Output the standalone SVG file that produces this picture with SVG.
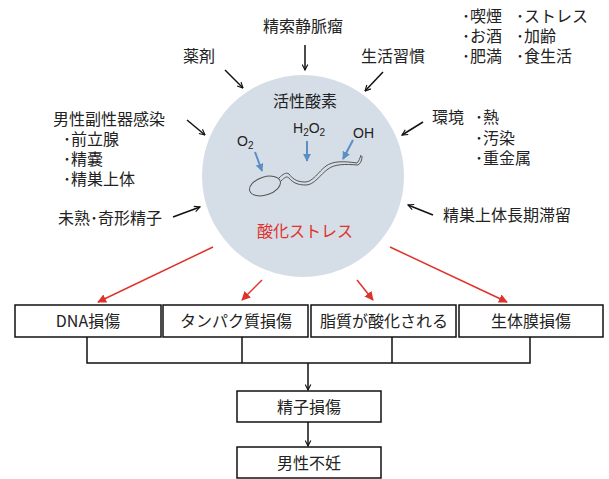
<svg xmlns="http://www.w3.org/2000/svg" width="609" height="479" viewBox="0 0 609 479">
  <defs>
    <style>
      text { font-family: "Noto Sans CJK JP", "Noto Sans", sans-serif; fill: #222; font-size: 16px; }
      .mid { text-anchor: middle; }
      .red { fill: #e0322c; }
      .chem { font-family: "Liberation Sans", Arial, sans-serif; font-size: 14px; }
      .sub { font-size: 10px; }
      .box rect { fill: #fff; stroke: #111; stroke-width: 1.5; }
      .blk { stroke: #111; stroke-width: 1.5; fill: none; }
      .rd { stroke: #e0322c; stroke-width: 1.5; fill: none; }
      .bl { stroke: #5b8fc4; stroke-width: 2; fill: none; }
      .line { stroke: #111; stroke-width: 1.5; fill: none; }
    </style>
    <marker id="hk" viewBox="0 0 10 10" refX="9" refY="5" markerWidth="7" markerHeight="7" orient="auto" markerUnits="userSpaceOnUse">
      <path d="M1,1 L9,5 L1,9" fill="none" stroke="#111" stroke-width="1.6"/>
    </marker>
    <marker id="hr" viewBox="0 0 10 10" refX="9" refY="5" markerWidth="9" markerHeight="9" orient="auto" markerUnits="userSpaceOnUse">
      <path d="M0,0 L10,5 L0,10 Z" fill="#e0322c"/>
    </marker>
    <marker id="hb" viewBox="0 0 10 10" refX="9" refY="5" markerWidth="8" markerHeight="8" orient="auto" markerUnits="userSpaceOnUse">
      <path d="M0,0 L10,5 L0,10 Z" fill="#5b8fc4"/>
    </marker>
  </defs>

  <!-- central reactive oxygen circle -->
  <g id="ros">
    <circle cx="303" cy="176" r="101" fill="#d5dde6"/>
    <text class="mid" x="305" y="107">活性酸素</text>
    <text class="chem" x="237" y="146">O<tspan class="sub" dy="3">2</tspan></text>
    <text class="chem" x="293" y="133">H<tspan class="sub" dy="3">2</tspan><tspan dy="-3">O</tspan><tspan class="sub" dy="3">2</tspan></text>
    <text class="chem" x="353" y="138">OH</text>
    <!-- sperm -->
    <g fill="none" stroke="#555" stroke-width="1">
      <ellipse cx="265" cy="186" rx="16" ry="9" transform="rotate(-18 265 186)"/>
      <path d="M279,178 C283,174 286,172 289,174 C292,178 296,182 305,182 C313,182 318,172 326,166 C333,161 343,161 357,163 C359,161 360,158 361,155"/>
      <path d="M281,181 C285,177 287,176 289,178 C293,183 298,185 306,185 C314,185 320,175 328,169 C335,164 344,164 358,165 C361,163 362,160 362,156"/>
    </g>
    <line class="bl" x1="255" y1="152" x2="262" y2="171" marker-end="url(#hb)"/>
    <line class="bl" x1="307" y1="141" x2="307" y2="161" marker-end="url(#hb)"/>
    <line class="bl" x1="353" y1="140" x2="343" y2="159" marker-end="url(#hb)"/>
    <text class="mid red" x="305" y="237">酸化ストレス</text>
  </g>

  <!-- causes -->
  <g id="varicocele"><text class="mid" x="303" y="32">精索静脈瘤</text></g>
  <g id="drugs"><text x="183" y="62">薬剤</text></g>
  <g id="lifestyle"><text x="361" y="62">生活習慣</text></g>
  <g id="habits">
    <text x="462" y="22">･喫煙</text>
    <text x="516" y="22">･ストレス</text>
    <text x="462" y="42">･お酒</text>
    <text x="516" y="42">･加齢</text>
    <text x="462" y="62">･肥満</text>
    <text x="516" y="62">･食生活</text>
  </g>
  <g id="infection">
    <text x="53" y="125">男性副性器感染</text>
    <text x="63" y="145">･前立腺</text>
    <text x="63" y="165">･精嚢</text>
    <text x="63" y="185">･精巣上体</text>
  </g>
  <g id="immature"><text x="58" y="224">未熟･奇形精子</text></g>
  <g id="environment">
    <text x="432" y="123">環境</text>
    <text x="475" y="123">･熱</text>
    <text x="475" y="144">･汚染</text>
    <text x="475" y="164">･重金属</text>
  </g>
  <g id="stasis"><text x="443" y="221">精巣上体長期滞留</text></g>

  <!-- damage boxes -->
  <g id="dna" class="box"><rect x="15" y="305" width="146" height="32"/><text class="mid" x="88" y="327">DNA損傷</text></g>
  <g id="protein" class="box"><rect x="163" y="305" width="145" height="32"/><text class="mid" x="236" y="327">タンパク質損傷</text></g>
  <g id="lipid" class="box"><rect x="311" y="305" width="145" height="32"/><text class="mid" x="384" y="327">脂質が酸化される</text></g>
  <g id="membrane" class="box"><rect x="459" y="305" width="144" height="32"/><text class="mid" x="531" y="327">生体膜損傷</text></g>
  <g id="sperm-damage" class="box"><rect x="237" y="391" width="144" height="31"/><text class="mid" x="309" y="413">精子損傷</text></g>
  <g id="infertility" class="box"><rect x="237" y="447" width="144" height="31"/><text class="mid" x="309" y="469">男性不妊</text></g>

  <!-- connectors -->
  <g id="connectors">
    <line class="blk" x1="305" y1="45" x2="305" y2="70" marker-end="url(#hk)"/>
    <line class="blk" x1="225" y1="70" x2="243" y2="88" marker-end="url(#hk)"/>
    <line class="blk" x1="383" y1="72" x2="365" y2="91" marker-end="url(#hk)"/>
    <line class="blk" x1="187" y1="120" x2="205" y2="135" marker-end="url(#hk)"/>
    <line class="blk" x1="423" y1="122" x2="402" y2="135" marker-end="url(#hk)"/>
    <line class="blk" x1="173" y1="217" x2="200" y2="207" marker-end="url(#hk)"/>
    <line class="blk" x1="433" y1="215" x2="408" y2="205" marker-end="url(#hk)"/>

    <line class="rd" x1="213" y1="247" x2="98" y2="302" marker-end="url(#hr)"/>
    <line class="rd" x1="262" y1="280" x2="242" y2="300" marker-end="url(#hr)"/>
    <line class="rd" x1="357" y1="280" x2="373" y2="300" marker-end="url(#hr)"/>
    <line class="rd" x1="390" y1="247" x2="507" y2="302" marker-end="url(#hr)"/>

    <path class="line" d="M87,337 V363 H530 V337 M242,337 V363 M392,337 V363"/>
    <line class="blk" x1="308" y1="363" x2="308" y2="390" marker-end="url(#hk)"/>
    <line class="blk" x1="308" y1="422" x2="308" y2="446" marker-end="url(#hk)"/>
  </g>
</svg>
